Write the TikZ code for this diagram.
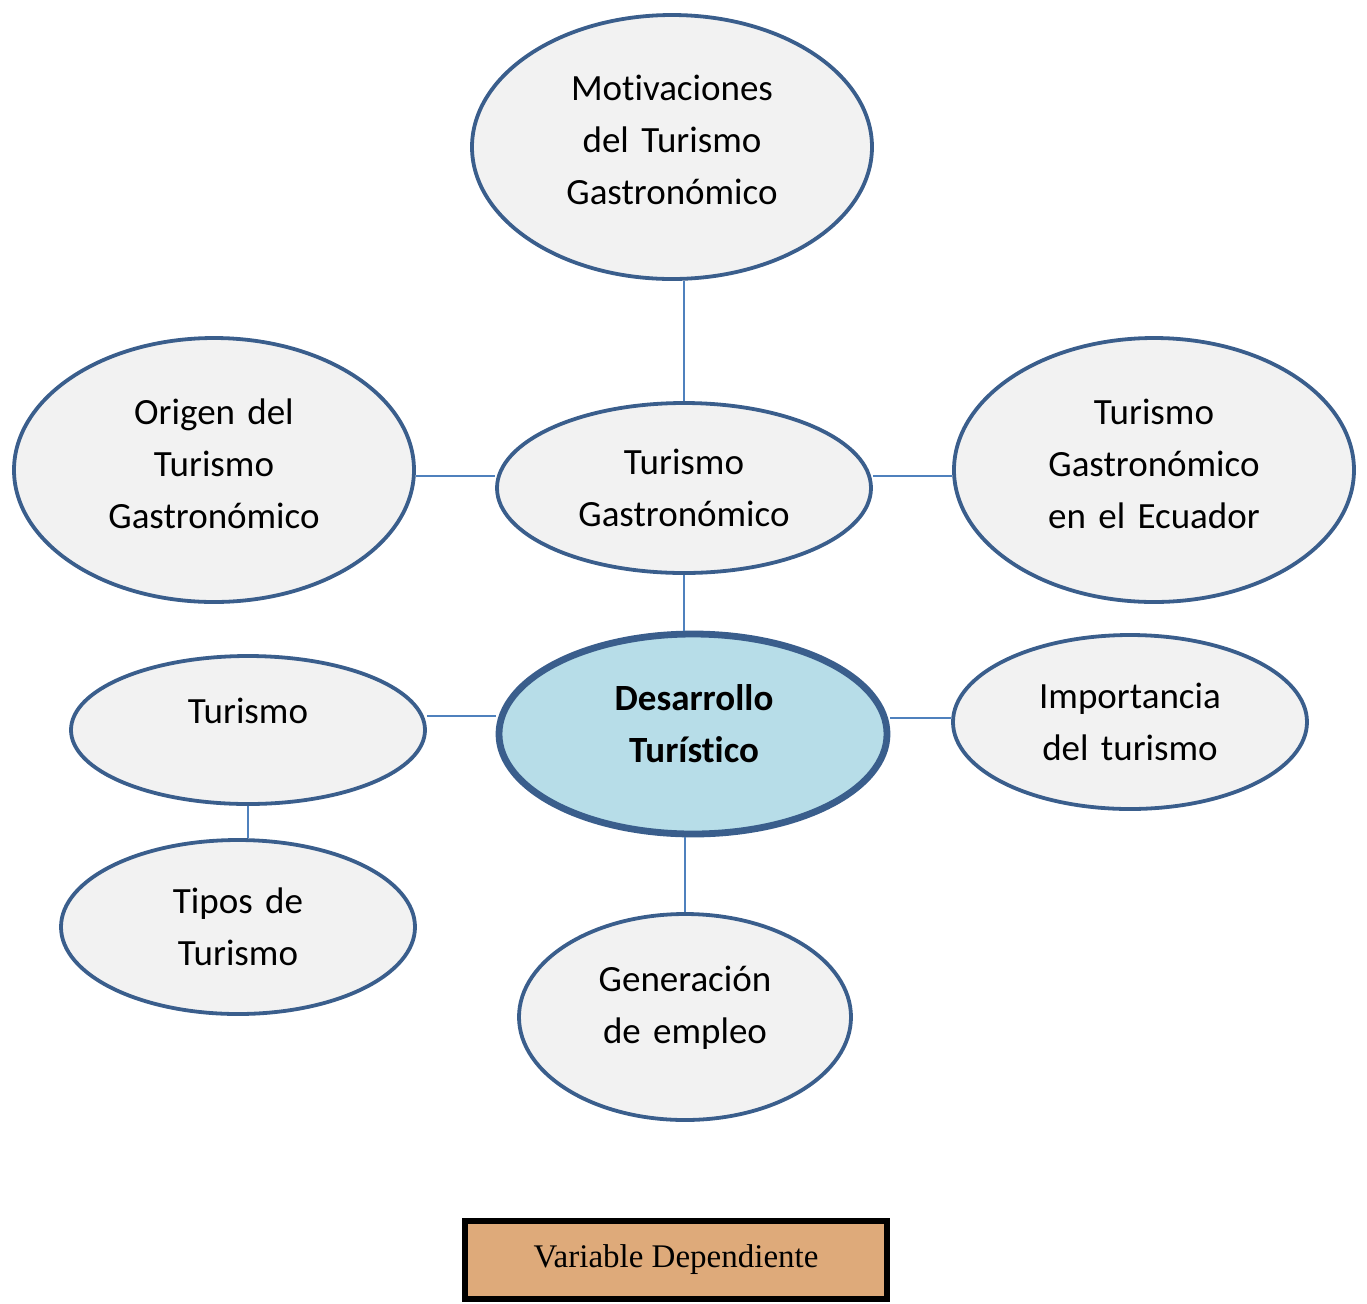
\documentclass[tikz,border=0pt]{standalone}
\usepackage{fontspec}
\setmainfont{Carlito}[Ligatures=NoCommon]
\newfontfamily\tnr{Liberation Serif}
\usetikzlibrary{shapes.geometric}
\definecolor{edgeblue}{HTML}{3A5E8C}
\definecolor{linkblue}{HTML}{4F81BD}
\definecolor{bubble}{HTML}{F2F2F2}
\definecolor{coreblue}{HTML}{B7DDE8}
\definecolor{tan}{RGB}{222,170,122}
\begin{document}
\begin{tikzpicture}[x=0.5pt,y=-0.5pt,
  bub/.style={ellipse,draw=edgeblue,fill=bubble,line width=1.9pt,inner sep=0pt},
  core/.style={bub,fill=coreblue,line width=3.4pt},
  lbl/.style={anchor=base,inner sep=0pt,text width=180pt,align=center,
    font=\fontsize{18.5}{26}\selectfont},
  link/.style={draw=linkblue,line width=0.75pt}]
\useasboundingbox (0,0) rectangle (1367,1303);
% ellipses
\node[bub,minimum width=200pt,minimum height=132pt] (M) at (672,147) {};
\node[bub,minimum width=200pt,minimum height=132pt] (O) at (214,470) {};
\node[bub,minimum width=187pt,minimum height=85pt] (TG) at (684,488) {};
\node[bub,minimum width=200pt,minimum height=132pt] (E) at (1154,470) {};
\node[core,minimum width=194pt,minimum height=100pt] (D) at (693,734) {};
\node[bub,minimum width=177pt,minimum height=74pt] (T) at (248,730) {};
\node[bub,minimum width=177pt,minimum height=87pt] (I) at (1130,722) {};
\node[bub,minimum width=177pt,minimum height=87pt] (Tp) at (238,927) {};
\node[bub,minimum width=166pt,minimum height=103pt] (G) at (685,1017) {};
% texts
\node[lbl] (tM) at (672,100) {Mot\kern0pt ivaciones\\del Turismo\\Gastronómico};
\node[lbl] (tO) at (214,424) {Origen del\\Turismo\\Gastronómico};
\node[lbl] (tTG) at (684,474) {Turismo\\Gastronómico};
\node[lbl] (tE) at (1154,424) {Turismo\\Gastronómico\\en el Ecuador};
\node[lbl,font=\fontsize{18.5}{26}\selectfont\bfseries] (tD) at (694,710) {Desarrollo\\Turíst\kern0pt ico};
\node[lbl] (tT) at (248,723) {Turismo};
\node[lbl] (tI) at (1130,708) {Importancia\\del turismo};
\node[lbl] (tTp) at (238,913) {Tipos de\\Turismo};
\node[lbl] (tG) at (685,991) {Generación\\de empleo};
% legend box
\node[draw=black,fill=tan,line width=3pt,minimum width=211pt,minimum height=39pt,
  inner sep=0pt,font=\tnr\fontsize{16.5}{20}\selectfont] (V) at (676,1260) {Variable Dependiente};
% helper rows
\coordinate (h1) at (0,476);
\coordinate (h2) at (0,716);
\coordinate (h3) at (0,718);
% connectors
\path[link] (TG.north) -- (TG.north |- M.south);
\path[link] (O.east |- h1) -- (TG.west |- h1);
\path[link] (TG.east |- h1) -- (E.west |- h1);
\path[link] (TG.south) -- (TG.south |- D.north);
\path[link] (T.east |- h2) -- (D.west |- h2);
\path[link] (D.east |- h3) -- (I.west |- h3);
\path[link] (T.south) -- (T.south |- Tp.north);
\path[link] (G.north) -- (G.north |- D.south);
\end{tikzpicture}
\end{document}
